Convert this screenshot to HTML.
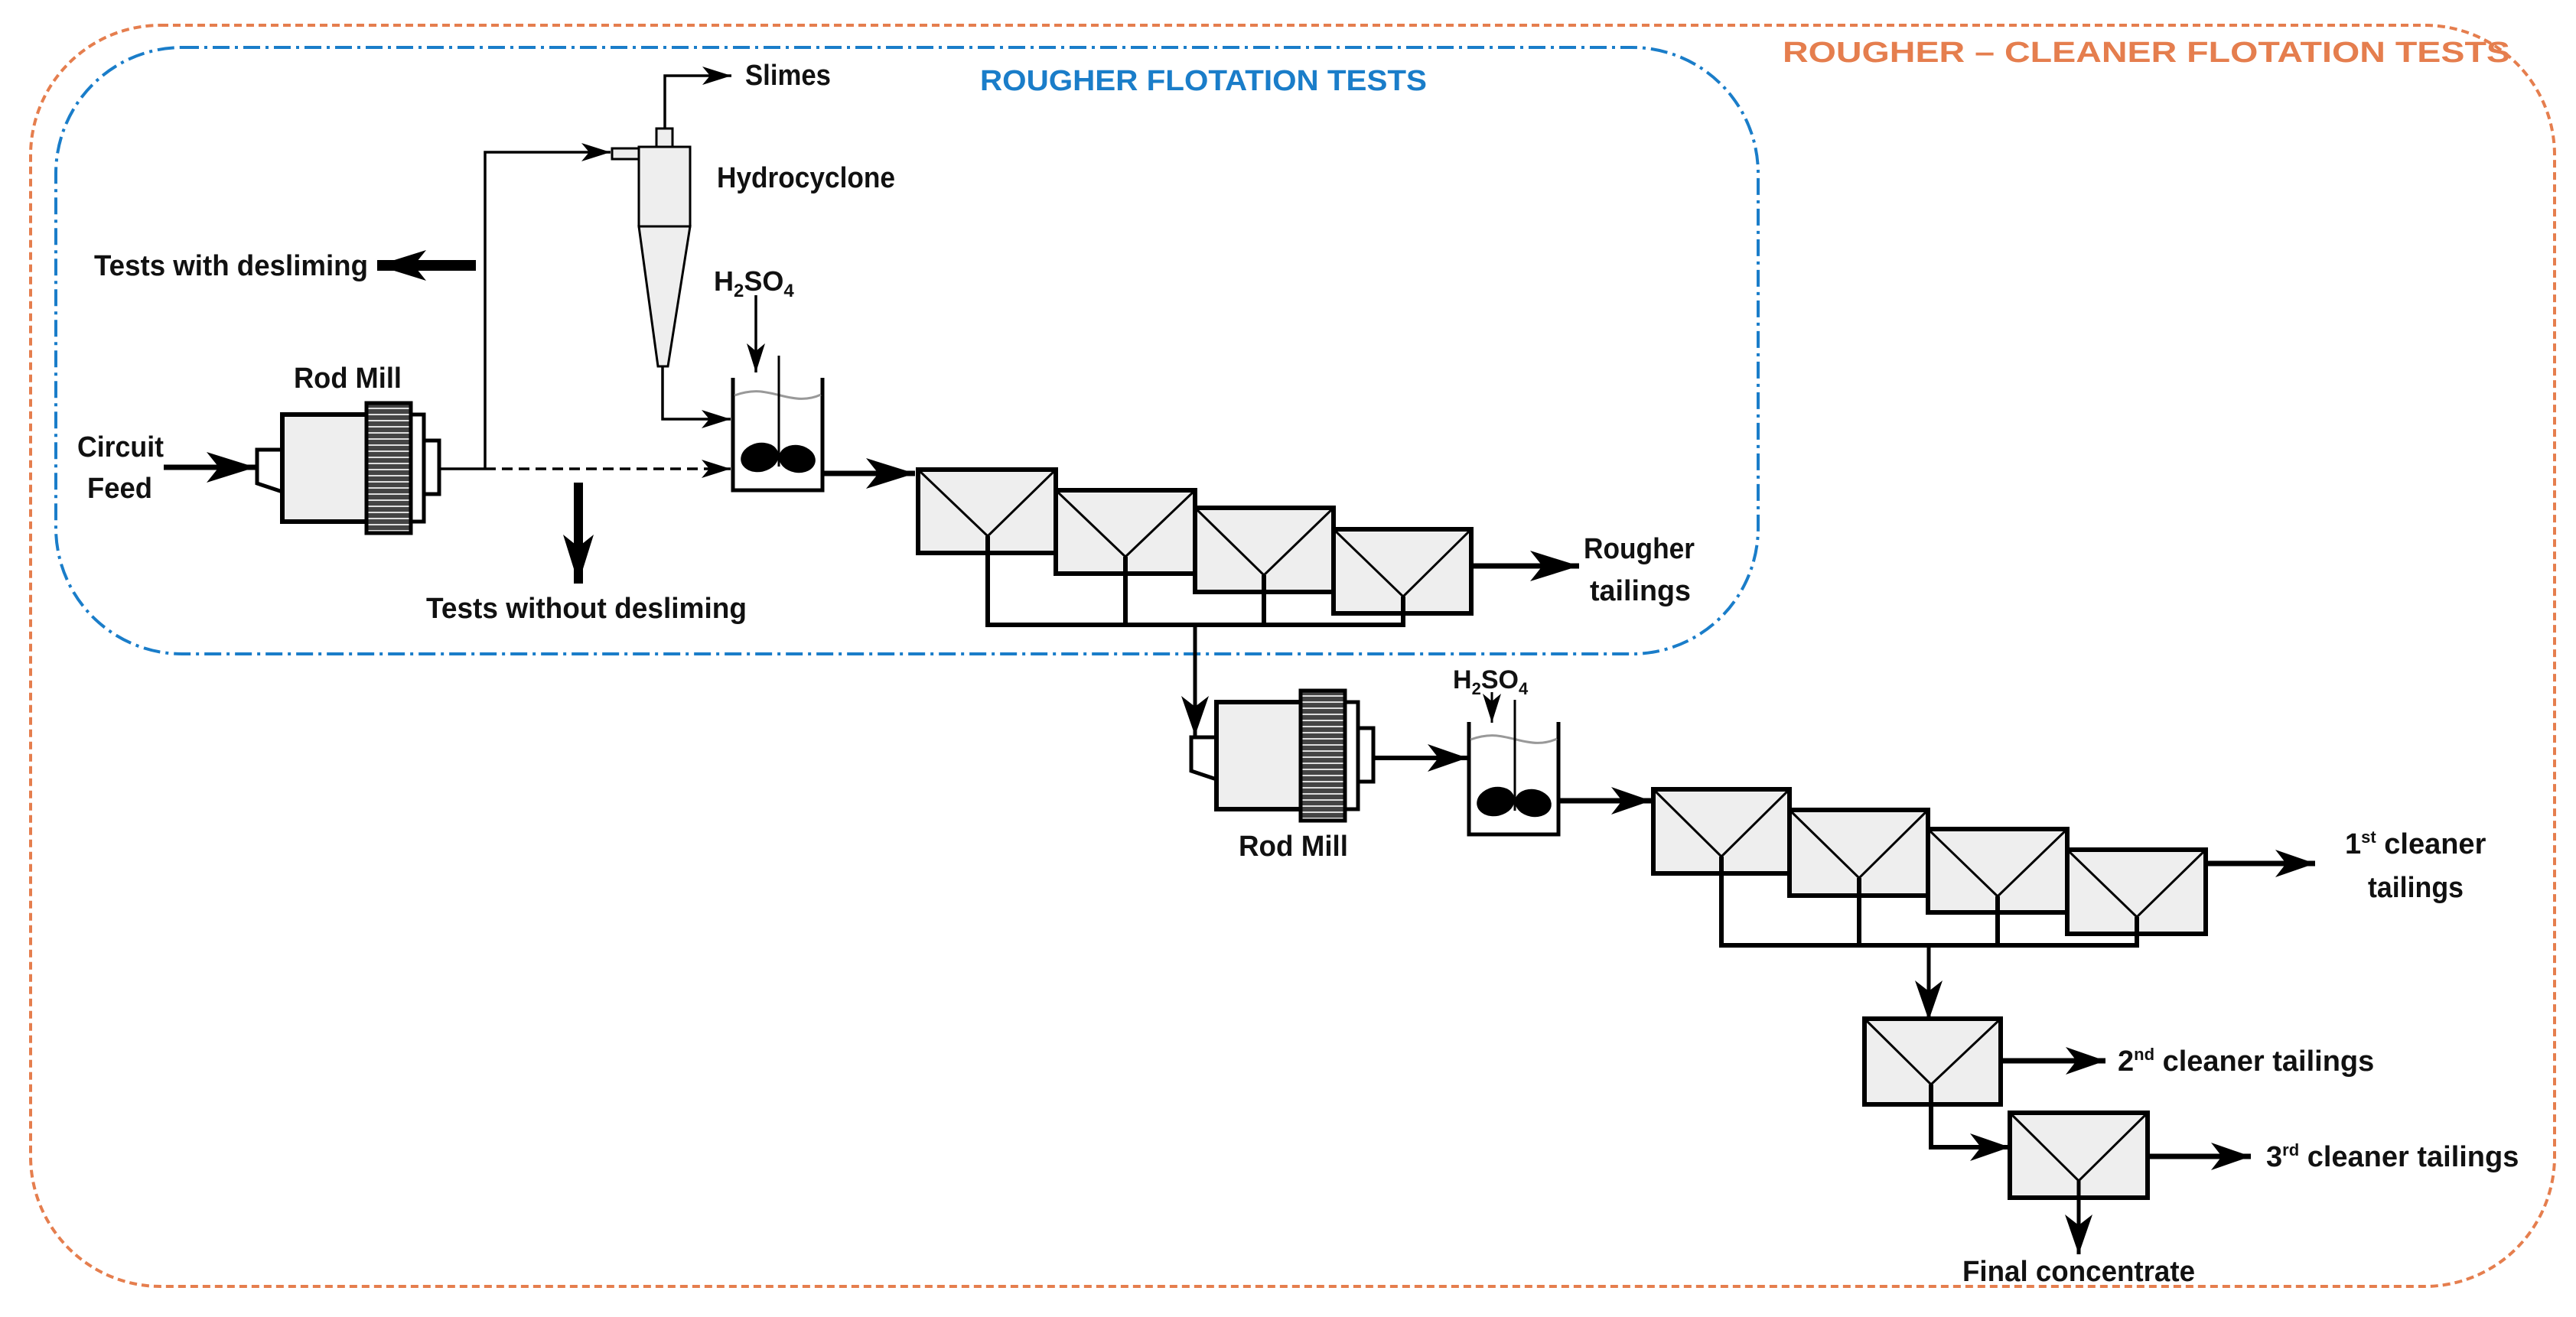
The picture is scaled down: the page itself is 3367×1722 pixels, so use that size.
<!DOCTYPE html>
<html><head><meta charset="utf-8"><style>
html,body{margin:0;padding:0;background:#fff;}
svg{display:block;}
text{font-family:"Liberation Sans Narrow","Liberation Sans",sans-serif;fill:#111;font-weight:bold;}
</style></head><body>
<svg width="3367" height="1722" viewBox="0 0 3367 1722" xmlns="http://www.w3.org/2000/svg">
<defs>
<marker id="aB" markerUnits="userSpaceOnUse" markerWidth="66" markerHeight="44" refX="64" refY="22" orient="auto">
<path d="M0,2 L64,22 L0,42 L16,22 z" fill="#000"/></marker>
<marker id="aM" markerUnits="userSpaceOnUse" markerWidth="54" markerHeight="38" refX="52" refY="19" orient="auto">
<path d="M0,1 L52,19 L0,37 L14,19 z" fill="#000"/></marker>
<marker id="aS" markerUnits="userSpaceOnUse" markerWidth="40" markerHeight="26" refX="38" refY="13" orient="auto">
<path d="M0,1 L38,13 L0,25 L10,13 z" fill="#000"/></marker>
<pattern id="gear" width="10" height="8" patternUnits="userSpaceOnUse">
<rect width="10" height="8" fill="#444"/><rect y="5" width="10" height="2" fill="#ddd"/></pattern>
<g id="mill">
<path d="M369,588 L336,588 L336,632 L369,643" fill="#fff" stroke="#000" stroke-width="5"/>
<rect x="369" y="542" width="112" height="140" fill="#eee" stroke="#000" stroke-width="6"/>
<rect x="479" y="527" width="58" height="170" fill="url(#gear)" stroke="#000" stroke-width="5"/>
<rect x="537" y="542" width="17" height="140" fill="#fff" stroke="#000" stroke-width="5"/>
<rect x="554" y="576" width="20" height="70" fill="#fff" stroke="#000" stroke-width="5"/>
</g>
<g id="tank">
<path d="M958,494 L958,641 L1075,641 L1075,494" fill="none" stroke="#000" stroke-width="5"/>
<path d="M960,517 C985,508 1000,512 1020,517 C1040,522 1055,524 1073,516" fill="none" stroke="#999" stroke-width="3"/>
<line x1="1018" y1="465" x2="1018" y2="610" stroke="#000" stroke-width="3"/>
<ellipse cx="993" cy="598" rx="25" ry="19" transform="rotate(-12 993 598)" fill="#000"/>
<ellipse cx="1042" cy="600" rx="24" ry="18" transform="rotate(10 1042 600)" fill="#000"/>
</g>
</defs>

<rect x="40" y="33" width="3299" height="1649" rx="170" ry="170" fill="none" stroke="#E57E4E" stroke-width="4" stroke-dasharray="10,6"/>
<text x="2330" y="81" font-size="38" textLength="951" lengthAdjust="spacingAndGlyphs" style="fill:#E57E4E">ROUGHER – CLEANER FLOTATION TESTS</text>

<rect x="73" y="62" width="2225" height="793" rx="165" ry="165" fill="none" stroke="#1A7DC9" stroke-width="4" stroke-dasharray="22,7,4,7"/>
<text x="1281" y="118" font-size="38" textLength="584" lengthAdjust="spacingAndGlyphs" style="fill:#1A7DC9">ROUGHER FLOTATION TESTS</text>

<use href="#mill"/>
<text x="384" y="507" font-size="38" textLength="141" lengthAdjust="spacingAndGlyphs">Rod Mill</text>
<text x="101" y="597" font-size="38" textLength="113" lengthAdjust="spacingAndGlyphs">Circuit</text>
<text x="114" y="651" font-size="38" textLength="85" lengthAdjust="spacingAndGlyphs">Feed</text>
<line x1="214" y1="611" x2="334" y2="611" stroke="#000" stroke-width="7" marker-end="url(#aB)"/>

<line x1="574" y1="613" x2="634" y2="613" stroke="#000" stroke-width="3.5"/>
<line x1="634" y1="613" x2="955" y2="613" stroke="#000" stroke-width="3.5" stroke-dasharray="14,8" marker-end="url(#aS)"/>
<polyline points="634,613 634,199 798,199" fill="none" stroke="#000" stroke-width="3.5" marker-end="url(#aS)"/>

<line x1="622" y1="347" x2="493" y2="347" stroke="#000" stroke-width="14" marker-end="url(#aB)"/>
<text x="123" y="360" font-size="38" textLength="358" lengthAdjust="spacingAndGlyphs">Tests with desliming</text>
<line x1="756" y1="631" x2="756" y2="763" stroke="#000" stroke-width="12" marker-end="url(#aB)"/>
<text x="557" y="808" font-size="38" textLength="419" lengthAdjust="spacingAndGlyphs">Tests without desliming</text>

<rect x="800" y="194" width="35" height="14" fill="#eee" stroke="#000" stroke-width="3"/>
<rect x="858" y="168" width="21" height="24" fill="#eee" stroke="#000" stroke-width="3"/>
<rect x="835" y="192" width="67" height="104" fill="#eee" stroke="#000" stroke-width="3"/>
<path d="M835,296 L902,296 L873,479 L860,479 z" fill="#eee" stroke="#000" stroke-width="3"/>
<polyline points="869,168 869,99 956,99" fill="none" stroke="#000" stroke-width="3.5" marker-end="url(#aS)"/>
<text x="974" y="111" font-size="38" textLength="112" lengthAdjust="spacingAndGlyphs">Slimes</text>
<text x="937" y="245" font-size="38" textLength="233" lengthAdjust="spacingAndGlyphs">Hydrocyclone</text>
<polyline points="866,479 866,548 955,548" fill="none" stroke="#000" stroke-width="3.5" marker-end="url(#aS)"/>

<text x="933" y="380" font-size="36">H<tspan font-size="24" dy="8">2</tspan><tspan dy="-8">SO</tspan><tspan font-size="24" dy="8">4</tspan></text>
<line x1="988" y1="386" x2="988" y2="487" stroke="#000" stroke-width="3.5" marker-end="url(#aS)"/>
<use href="#tank"/>
<line x1="1075" y1="619" x2="1196" y2="619" stroke="#000" stroke-width="7" marker-end="url(#aB)"/>

<g stroke="#000" fill="#eee">
<rect x="1200" y="614" width="180" height="109" stroke-width="6"/>
<rect x="1380" y="641" width="182" height="109" stroke-width="6"/>
<rect x="1562" y="664" width="181" height="110" stroke-width="6"/>
<rect x="1743" y="692" width="180" height="110" stroke-width="6"/>
</g>
<g stroke="#000" fill="none" stroke-width="3">
<polyline points="1200,614 1291,701 1380,614"/>
<polyline points="1380,641 1471,728 1562,641"/>
<polyline points="1562,664 1652,752 1743,664"/>
<polyline points="1743,692 1834,780 1923,692"/>
</g>
<g stroke="#000" stroke-width="6" fill="none">
<line x1="1291" y1="701" x2="1291" y2="820"/>
<line x1="1471" y1="728" x2="1471" y2="820"/>
<line x1="1652" y1="752" x2="1652" y2="820"/>
<line x1="1834" y1="780" x2="1834" y2="820"/>
<line x1="1288" y1="817" x2="1837" y2="817"/>
</g>
<line x1="1923" y1="740" x2="2064" y2="740" stroke="#000" stroke-width="7" marker-end="url(#aB)"/>
<text x="2070" y="730" font-size="38" textLength="145" lengthAdjust="spacingAndGlyphs">Rougher</text>
<text x="2078" y="785" font-size="38" textLength="132" lengthAdjust="spacingAndGlyphs">tailings</text>
<line x1="1562" y1="817" x2="1562" y2="962" stroke="#000" stroke-width="5" marker-end="url(#aM)"/>

<use href="#mill" transform="translate(1221,376)"/>
<text x="1619" y="1119" font-size="38" textLength="143" lengthAdjust="spacingAndGlyphs">Rod Mill</text>
<line x1="1795" y1="991" x2="1918" y2="991" stroke="#000" stroke-width="6" marker-end="url(#aM)"/>
<text x="1899" y="900" font-size="34">H<tspan font-size="22" dy="8">2</tspan><tspan dy="-8">SO</tspan><tspan font-size="22" dy="8">4</tspan></text>
<line x1="1950" y1="905" x2="1950" y2="945" stroke="#000" stroke-width="3" marker-end="url(#aS)"/>
<use href="#tank" transform="translate(962,450)"/>
<line x1="2038" y1="1047" x2="2158" y2="1047" stroke="#000" stroke-width="7" marker-end="url(#aM)"/>

<g stroke="#000" fill="#eee">
<rect x="2161" y="1032" width="178" height="110" stroke-width="6"/>
<rect x="2339" y="1059" width="181" height="112" stroke-width="6"/>
<rect x="2520" y="1084" width="182" height="109" stroke-width="6"/>
<rect x="2702" y="1111" width="181" height="110" stroke-width="6"/>
<rect x="2437" y="1332" width="178" height="112" stroke-width="6"/>
<rect x="2627" y="1455" width="180" height="111" stroke-width="6"/>
</g>
<g stroke="#000" fill="none" stroke-width="3">
<polyline points="2161,1032 2250,1120 2339,1032"/>
<polyline points="2339,1059 2430,1148 2520,1059"/>
<polyline points="2520,1084 2611,1172 2702,1084"/>
<polyline points="2702,1111 2793,1199 2883,1111"/>
<polyline points="2437,1332 2524,1418 2615,1332"/>
<polyline points="2627,1455 2717,1544 2807,1455"/>
</g>
<g stroke="#000" stroke-width="6" fill="none">
<line x1="2250" y1="1120" x2="2250" y2="1239"/>
<line x1="2430" y1="1148" x2="2430" y2="1239"/>
<line x1="2611" y1="1172" x2="2611" y2="1239"/>
<line x1="2793" y1="1199" x2="2793" y2="1239"/>
<line x1="2247" y1="1236" x2="2796" y2="1236"/>
</g>
<line x1="2521" y1="1236" x2="2521" y2="1334" stroke="#000" stroke-width="5" marker-end="url(#aM)"/>
<line x1="2883" y1="1129" x2="3026" y2="1129" stroke="#000" stroke-width="7" marker-end="url(#aM)"/>
<text x="3065" y="1116" font-size="38">1<tspan font-size="22" dy="-14">st</tspan><tspan dy="14"> cleaner</tspan></text>
<text x="3095" y="1173" font-size="38" textLength="125" lengthAdjust="spacingAndGlyphs">tailings</text>

<line x1="2615" y1="1387" x2="2752" y2="1387" stroke="#000" stroke-width="7" marker-end="url(#aM)"/>
<text x="2768" y="1400" font-size="38">2<tspan font-size="22" dy="-14">nd</tspan><tspan dy="14"> cleaner tailings</tspan></text>
<polyline points="2524,1418 2524,1500 2627,1500" fill="none" stroke="#000" stroke-width="6" marker-end="url(#aM)"/>
<line x1="2807" y1="1512" x2="2942" y2="1512" stroke="#000" stroke-width="7" marker-end="url(#aM)"/>
<text x="2962" y="1525" font-size="38">3<tspan font-size="22" dy="-14">rd</tspan><tspan dy="14"> cleaner tailings</tspan></text>
<line x1="2717" y1="1544" x2="2717" y2="1640" stroke="#000" stroke-width="5" marker-end="url(#aM)"/>
<text x="2565" y="1675" font-size="38" textLength="304" lengthAdjust="spacingAndGlyphs">Final concentrate</text>
</svg>
</body></html>
